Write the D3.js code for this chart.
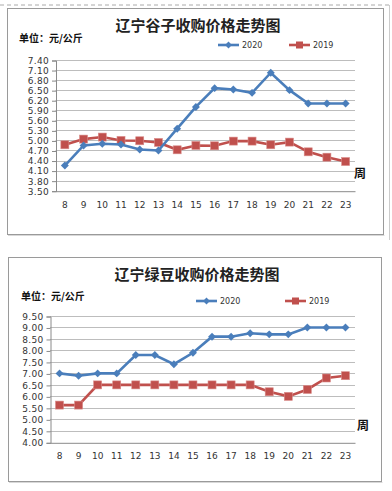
<!DOCTYPE html>
<html><head><meta charset="utf-8">
<script src="https://cdn.jsdelivr.net/npm/d3@7"></script>
<style>body{margin:0;background:#fff}svg{display:block}</style>
</head><body>
<svg id="c" width="392" height="491"></svg>
<script>
const weeks = ["8","9","10","11","12","13","14","15","16","17","18","19","20","21","22","23"];
const seriesNames = ["2020","2019"];
// chart 1: 谷子
const millet2020 = [4.25,4.85,4.90,4.88,4.73,4.70,5.35,6.00,6.56,6.52,6.42,7.02,6.50,6.10,6.10,6.10];
const millet2019 = [4.87,5.04,5.10,5.00,4.99,4.94,4.72,4.85,4.84,4.98,4.98,4.87,4.95,4.66,4.50,4.37];
const milletTicks = [3.50,3.80,4.10,4.40,4.70,5.00,5.30,5.60,5.90,6.20,6.50,6.80,7.10,7.40];
// chart 2: 绿豆
const mung2020 = [7.00,6.90,7.00,7.00,7.80,7.80,7.40,7.90,8.60,8.60,8.75,8.70,8.70,9.00,9.00,9.00];
const mung2019 = [5.62,5.62,6.50,6.50,6.50,6.50,6.50,6.50,6.50,6.50,6.50,6.20,6.00,6.30,6.80,6.90];
const mungTicks = [4.00,4.50,5.00,5.50,6.00,6.50,7.00,7.50,8.00,8.50,9.00,9.50];

const BLUE = "#4a7ebb", RED = "#c0504d";
const svg = d3.select("#c");

// dashed outer top line
svg.append("line").attr("x1",0).attr("x2",392).attr("y1",5).attr("y2",5)
  .attr("stroke","#aaa").attr("stroke-dasharray","4,3").attr("stroke-width",1);
svg.append("line").attr("x1",389.5).attr("x2",389.5).attr("y1",5).attr("y2",240)
  .attr("stroke","#ccc").attr("stroke-width",1);

function chart(cfg){
  const g = svg.append("g");
  // box
  g.append("rect").attr("x",cfg.box[0]+0.5).attr("y",cfg.box[1]+0.5)
    .attr("width",cfg.box[2]-cfg.box[0]).attr("height",cfg.box[3]-cfg.box[1])
    .attr("fill","#fff").attr("stroke","#9a9a9a").attr("stroke-width",1);
  g.append("line").attr("x1",cfg.box[0]+1).attr("x2",cfg.box[2]+1.5)
    .attr("y1",cfg.box[3]+1.5).attr("y2",cfg.box[3]+1.5).attr("stroke","#d8d8d8");
  // title
  g.append("text").attr("x",cfg.titleX).attr("y",cfg.titleY).attr("text-anchor","middle")
    .attr("font-family","Noto Sans CJK SC").attr("font-weight","bold").attr("font-size",15)
    .attr("fill","#222").text(cfg.title);
  g.append("text").attr("x",cfg.unitX).attr("y",cfg.unitY)
    .attr("font-family","Noto Sans CJK SC").attr("font-weight","bold").attr("font-size",10)
    .attr("fill","#111").text("单位：元/公斤");

  const x = d3.scaleBand().domain(weeks).range([cfg.x0,cfg.x1]);
  const y = d3.scaleLinear().domain([cfg.ticks[0],cfg.ticks[cfg.ticks.length-1]]).range([cfg.y0,cfg.y1]);

  // gridlines
  g.append("g").selectAll("line").data(cfg.ticks.slice(1)).join("line")
    .attr("x1",cfg.x0).attr("x2",cfg.x1).attr("y1",d=>Math.round(y(d))+0.5).attr("y2",d=>Math.round(y(d))+0.5)
    .attr("stroke","#bdbdbd").attr("stroke-width",1.2);

  const ya = d3.axisLeft(y).tickValues(cfg.ticks).tickFormat(d3.format(".2f")).tickSize(4).tickPadding(3);
  const yg = g.append("g").attr("transform",`translate(${cfg.x0+0.5},0.5)`).call(ya);
  yg.select(".domain").attr("stroke","#8a8a8a");
  yg.selectAll(".tick line").attr("stroke","#8a8a8a");
  yg.selectAll("text").attr("font-family","DejaVu Sans").attr("font-size",9).attr("fill","#333")
    .attr("letter-spacing","0.3px");

  const xa = d3.axisBottom(x).tickSize(0).tickPadding(cfg.xPad);
  const xg = g.append("g").attr("transform",`translate(0,${cfg.y0+0.5})`).call(xa);
  xg.select(".domain").attr("stroke","#8a8a8a");
  xg.selectAll("text").attr("font-family","DejaVu Sans").attr("font-size",9).attr("fill","#333");

  g.append("text").attr("x",cfg.zhouX).attr("y",cfg.zhouY)
    .attr("font-family","Noto Sans CJK SC").attr("font-weight","bold").attr("font-size",12)
    .attr("fill","#111").text("周");

  const cx = d => x(d) + x.bandwidth()/2;
  const line = d3.line().x((d,i)=>cx(weeks[i])).y(d=>y(d));
  // 2019 red
  g.append("path").datum(cfg.s2019).attr("d",line).attr("fill","none").attr("stroke",RED).attr("stroke-width",2.6);
  g.append("g").selectAll("rect").data(cfg.s2019).join("rect")
    .attr("x",(d,i)=>cx(weeks[i])-4).attr("y",d=>y(d)-4).attr("width",8).attr("height",8)
    .attr("fill",RED).attr("stroke","#d98c8a").attr("stroke-width",0.6);
  // 2020 blue
  g.append("path").datum(cfg.s2020).attr("d",line).attr("fill","none").attr("stroke",BLUE).attr("stroke-width",2.6);
  g.append("g").selectAll("path").data(cfg.s2020).join("path")
    .attr("d",d3.symbol(d3.symbolDiamond2,40))
    .attr("transform",(d,i)=>`translate(${cx(weeks[i])},${y(d)})`)
    .attr("fill",BLUE);

  // legend
  const L = cfg.legend;
  g.append("line").attr("x1",L[0]).attr("x2",L[0]+21).attr("y1",L[2]).attr("y2",L[2]).attr("stroke",BLUE).attr("stroke-width",2.6);
  g.append("path").attr("d",d3.symbol(d3.symbolDiamond2,30)).attr("transform",`translate(${L[0]+10.5},${L[2]})`).attr("fill",BLUE);
  g.append("text").attr("x",L[0]+24).attr("y",L[2]+3).attr("font-family","DejaVu Sans").attr("font-size",8).attr("fill","#333").text(seriesNames[0]);
  g.append("line").attr("x1",L[1]).attr("x2",L[1]+21).attr("y1",L[2]).attr("y2",L[2]).attr("stroke",RED).attr("stroke-width",2.6);
  g.append("rect").attr("x",L[1]+7).attr("y",L[2]-3.5).attr("width",7).attr("height",7).attr("fill",RED);
  g.append("text").attr("x",L[1]+24).attr("y",L[2]+3).attr("font-family","DejaVu Sans").attr("font-size",8).attr("fill","#333").text(seriesNames[1]);
}

chart({box:[7,8,383,234], title:"辽宁谷子收购价格走势图", titleX:198, titleY:31, unitX:19, unitY:42,
  x0:55.5, x1:355, y0:190.7, y1:60, ticks:milletTicks, s2020:millet2020, s2019:millet2019,
  xPad:10, zhouX:354, zhouY:178, legend:[218,289,45]});
chart({box:[8,257,381,481], title:"辽宁绿豆收购价格走势图", titleX:197, titleY:280, unitX:21, unitY:300,
  x0:50, x1:355, y0:442.3, y1:316, ticks:mungTicks, s2020:mung2020, s2019:mung2019,
  xPad:10, zhouX:357, zhouY:430, legend:[196,285,301]});
</script>
</body></html>
